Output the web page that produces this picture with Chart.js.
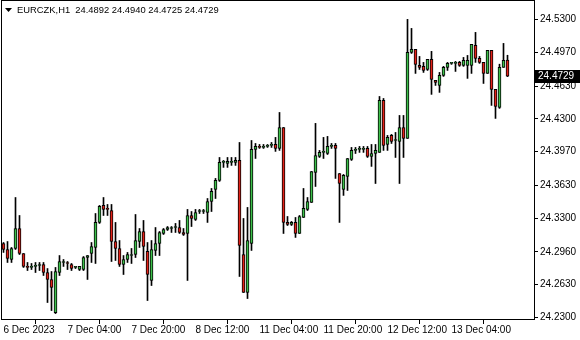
<!DOCTYPE html>
<html lang="en">
<head>
  <meta charset="UTF-8" />
  <title>EURCZK,H1</title>
  <script src="https://cdn.jsdelivr.net/npm/chart.js"></script>
  <style>
    * { margin: 0; padding: 0; box-sizing: border-box; }
    body { background: #fff; width: 580px; height: 340px; overflow: hidden; }
    canvas { display: block; }
  </style>
</head>
<body>
  <canvas id="priceChart" width="580" height="340"></canvas>

  <script>
    const symbol = "EURCZK,H1";

    // hourly bars, 6 Dec 12:00 .. 13 Dec
    const opens = [
      24.3045, 24.2985, 24.2884, 24.2995, 24.3196, 24.2944, 24.2814, 24.2804, 24.2814, 24.2824,
      24.2834, 24.2753, 24.2683, 24.2350, 24.2753, 24.2854, 24.2854, 24.2834, 24.2804, 24.2783,
      24.2783, 24.2904, 24.2944, 24.3005, 24.3257, 24.3428, 24.3398, 24.3377, 24.3065, 24.2995,
      24.2834, 24.2884, 24.2924, 24.2934, 24.3065, 24.3166, 24.2965, 24.2673, 24.2975, 24.3045,
      24.3146, 24.3186, 24.3196, 24.3206, 24.3206, 24.3156, 24.3146, 24.3327, 24.3287, 24.3367,
      24.3367, 24.3357, 24.3468, 24.3589, 24.3680, 24.3861, 24.3851, 24.3861, 24.3861, 24.3881,
      24.2934, 24.2552, 24.3045, 24.3992, 24.4022, 24.4012, 24.4022, 24.4032, 24.4042, 24.4002,
      24.4213, 24.3257, 24.3237, 24.3257, 24.3146, 24.3307, 24.3388, 24.3458, 24.3760, 24.3921,
      24.3962, 24.3951, 24.4022, 24.4032, 24.3750, 24.3589, 24.3720, 24.3891, 24.3982, 24.3992,
      24.3992, 24.4002, 24.3921, 24.3951, 24.3962, 24.4485, 24.4042, 24.4133, 24.4082, 24.4072,
      24.4213, 24.4103, 24.4969, 24.4999, 24.4838, 24.4828, 24.4797, 24.4898, 24.4687, 24.4636,
      24.4737, 24.4818, 24.4858, 24.4858, 24.4868, 24.4838, 24.4838, 24.4838, 24.5039, 24.4908,
      24.4868, 24.4757, 24.4989, 24.4596, 24.4415, 24.4818, 24.4892
    ];
    const highs = [
      24.3055, 24.3065, 24.3005, 24.3508, 24.3327, 24.2944, 24.2854, 24.2844, 24.2854, 24.2854,
      24.2854, 24.2793, 24.2763, 24.2804, 24.2924, 24.2884, 24.2864, 24.2844, 24.2814, 24.2814,
      24.2914, 24.2924, 24.3055, 24.3347, 24.3428, 24.3508, 24.3438, 24.3438, 24.3257, 24.3075,
      24.2924, 24.2955, 24.2995, 24.3337, 24.3196, 24.3277, 24.3055, 24.3075, 24.3206, 24.3166,
      24.3196, 24.3216, 24.3216, 24.3247, 24.3277, 24.3196, 24.3388, 24.3367, 24.3388, 24.3388,
      24.3388, 24.3498, 24.3599, 24.3700, 24.3911, 24.3881, 24.3911, 24.3911, 24.3911, 24.4062,
      24.3297, 24.3408, 24.4082, 24.4052, 24.4042, 24.4042, 24.4042, 24.4062, 24.4113, 24.4364,
      24.4213, 24.3317, 24.3267, 24.3307, 24.3327, 24.3599, 24.3508, 24.3770, 24.4254, 24.3982,
      24.4113, 24.4123, 24.4052, 24.4052, 24.3750, 24.3740, 24.3901, 24.4012, 24.4012, 24.4022,
      24.4022, 24.4022, 24.4042, 24.4042, 24.4525, 24.4505, 24.4133, 24.4143, 24.4163, 24.4334,
      24.4334, 24.5301, 24.5210, 24.4999, 24.4928, 24.4868, 24.4898, 24.4979, 24.4687, 24.4767,
      24.4828, 24.4868, 24.4868, 24.4878, 24.4878, 24.4918, 24.4938, 24.5049, 24.5170, 24.4928,
      24.4868, 24.4989, 24.4989, 24.4596, 24.4850, 24.5059, 24.4940
    ];
    const lows = [
      24.2955, 24.2854, 24.2854, 24.2985, 24.2934, 24.2804, 24.2773, 24.2783, 24.2753, 24.2773,
      24.2723, 24.2451, 24.2370, 24.2340, 24.2723, 24.2814, 24.2783, 24.2773, 24.2793, 24.2773,
      24.2773, 24.2683, 24.2854, 24.2844, 24.3247, 24.3327, 24.3327, 24.2864, 24.2874, 24.2814,
      24.2733, 24.2854, 24.2844, 24.2904, 24.3005, 24.2874, 24.2471, 24.2622, 24.2924, 24.2924,
      24.3136, 24.3176, 24.3156, 24.3156, 24.3146, 24.3126, 24.2673, 24.3216, 24.3277, 24.3347,
      24.3347, 24.3257, 24.3367, 24.3498, 24.3670, 24.3811, 24.3811, 24.3831, 24.3831, 24.2713,
      24.2552, 24.2491, 24.2975, 24.3901, 24.4002, 24.4002, 24.4012, 24.4012, 24.3972, 24.3982,
      24.3146, 24.3226, 24.3226, 24.3106, 24.3146, 24.3307, 24.3377, 24.3458, 24.3619, 24.3911,
      24.3901, 24.3941, 24.4002, 24.3700, 24.3257, 24.3529, 24.3579, 24.3881, 24.3951, 24.3962,
      24.3962, 24.3911, 24.3821, 24.3649, 24.3962, 24.3982, 24.3982, 24.4052, 24.3911, 24.3649,
      24.3911, 24.4103, 24.4958, 24.4757, 24.4797, 24.4767, 24.4787, 24.4546, 24.4636, 24.4566,
      24.4727, 24.4787, 24.4848, 24.4777, 24.4828, 24.4828, 24.4707, 24.4757, 24.4868, 24.4858,
      24.4656, 24.4757, 24.4435, 24.4304, 24.4405, 24.4818, 24.4725
    ];
    const closes = [
      24.2985, 24.2894, 24.2995, 24.3196, 24.2944, 24.2814, 24.2804, 24.2814, 24.2824, 24.2834,
      24.2753, 24.2683, 24.2602, 24.2763, 24.2864, 24.2864, 24.2844, 24.2793, 24.2804, 24.2814,
      24.2904, 24.2924, 24.3015, 24.3257, 24.3418, 24.3388, 24.3388, 24.3065, 24.2995, 24.2834,
      24.2884, 24.2934, 24.2934, 24.3075, 24.3166, 24.3015, 24.2733, 24.2985, 24.3045, 24.3156,
      24.3186, 24.3206, 24.3196, 24.3206, 24.3156, 24.3136, 24.3327, 24.3297, 24.3357, 24.3367,
      24.3370, 24.3468, 24.3569, 24.3680, 24.3861, 24.3861, 24.3871, 24.3865, 24.3881, 24.3025,
      24.2552, 24.3075, 24.3992, 24.4022, 24.4012, 24.4015, 24.4025, 24.4035, 24.4002, 24.4213,
      24.3257, 24.3237, 24.3257, 24.3146, 24.3317, 24.3398, 24.3468, 24.3770, 24.3931, 24.3962,
      24.3965, 24.4022, 24.4025, 24.4002, 24.3649, 24.3730, 24.3901, 24.3982, 24.3985, 24.3995,
      24.3992, 24.3921, 24.3951, 24.3982, 24.4485, 24.4032, 24.4113, 24.4072, 24.4085, 24.4213,
      24.4103, 24.4969, 24.4999, 24.4848, 24.4818, 24.4787, 24.4898, 24.4697, 24.4666, 24.4737,
      24.4818, 24.4858, 24.4860, 24.4868, 24.4838, 24.4888, 24.4888, 24.5049, 24.4908, 24.4868,
      24.4757, 24.4989, 24.4596, 24.4425, 24.4818, 24.4888, 24.4729
    ];

    const timeLabels = ["6 Dec 2023", "7 Dec 04:00", "7 Dec 20:00", "8 Dec 12:00",
      "11 Dec 04:00", "11 Dec 20:00", "12 Dec 12:00", "13 Dec 04:00"];
    const timeTickBars = [0, 16, 32, 48, 64, 80, 96, 112];
    const priceTicks = [24.2300, 24.2630, 24.2960, 24.3300, 24.3630, 24.3970,
      24.4300, 24.4630, 24.4970, 24.5300];

    const BULL = "#3cc04a";
    const BEAR = "#e32219";
    const FONT = "'Liberation Sans', Arial, sans-serif";

    const wickData = opens.map((o, i) => ({ x: i, y: [lows[i], highs[i]] }));
    const bodyData = opens.map((o, i) => ({ x: i, y: [o, closes[i]] }));
    const bodyColors = opens.map((o, i) => closes[i] >= o ? BULL : BEAR);

    const last = opens.length - 1;

    // header, frame and last price box, MT style
    const terminalDecor = {
      id: "terminalDecor",
      afterDraw(chart) {
        const ctx = chart.ctx;
        const a = chart.chartArea;
        ctx.save();
        ctx.strokeStyle = "#000";
        ctx.lineWidth = 1;
        ctx.strokeRect(a.left + 0.5, a.top + 0.5, a.right - a.left, a.bottom - a.top - 1);

        ctx.fillStyle = "#000";
        ctx.beginPath();
        ctx.moveTo(5, 8); ctx.lineTo(12, 8); ctx.lineTo(8.5, 12);
        ctx.closePath();
        ctx.fill();

        ctx.font = "9.4px " + FONT;
        ctx.textBaseline = "middle";
        const ohlc = [opens[last], highs[last], lows[last], closes[last]].map(v => v.toFixed(4)).join(" ");
        ctx.fillText(symbol + "  " + ohlc, 17, 10.5);

        ctx.font = "10px " + FONT;
        const y = Math.round(chart.scales.y.getPixelForValue(closes[last]));
        ctx.fillRect(535, y - 6, 45, 13);
        ctx.fillStyle = "#fff";
        ctx.fillText(closes[last].toFixed(4), 538, y + 0.5);
        ctx.restore();
      }
    };

    new Chart(document.getElementById("priceChart"), {
      type: "bar",
      data: {
        datasets: [
          {
            label: "wick",
            data: wickData,
            backgroundColor: "#000",
            borderWidth: 0,
            grouped: false,
            barThickness: 1,
            maxBarThickness: 1,
            order: 2
          },
          {
            label: "body",
            data: bodyData,
            backgroundColor: bodyColors,
            borderColor: "#000",
            borderWidth: 1,
            borderSkipped: false,
            grouped: false,
            barThickness: 3,
            maxBarThickness: 3,
            minBarLength: 1,
            order: 1
          }
        ]
      },
      options: {
        responsive: false,
        animation: false,
        layout: { padding: { left: 1, top: 0, right: 0, bottom: 0 } },
        plugins: {
          legend: { display: false },
          tooltip: { enabled: false }
        },
        scales: {
          x: {
            type: "linear",
            offset: false,
            min: -0.625,
            max: 132.625,
            afterBuildTicks: s => { s.ticks = timeTickBars.map(v => ({ value: v })); },
            afterFit: s => { s.height = 20; s.paddingLeft = 0; s.paddingRight = 0; },
            grid: { drawOnChartArea: false, drawTicks: true, tickLength: 4, color: "#000" },
            border: { display: false },
            ticks: {
              autoSkip: false,
              maxRotation: 0,
              align: "start",
              padding: 0,
              color: "#000",
              font: { family: FONT, size: 10 },
              callback: v => timeLabels[timeTickBars.indexOf(v)]
            }
          },
          y: {
            type: "linear",
            position: "right",
            min: 24.2275,
            max: 24.5496,
            afterBuildTicks: s => { s.ticks = priceTicks.map(v => ({ value: v })); },
            afterFit: s => { s.width = 46; s.paddingTop = 0; s.paddingBottom = 0; },
            grid: { drawOnChartArea: false, drawTicks: true, tickLength: 4, color: "#000" },
            border: { display: false },
            ticks: {
              autoSkip: false,
              padding: 2,
              color: "#000",
              font: { family: FONT, size: 10 },
              callback: v => v.toFixed(4)
            }
          }
        }
      },
      plugins: [terminalDecor]
    });
  </script>
</body>
</html>
